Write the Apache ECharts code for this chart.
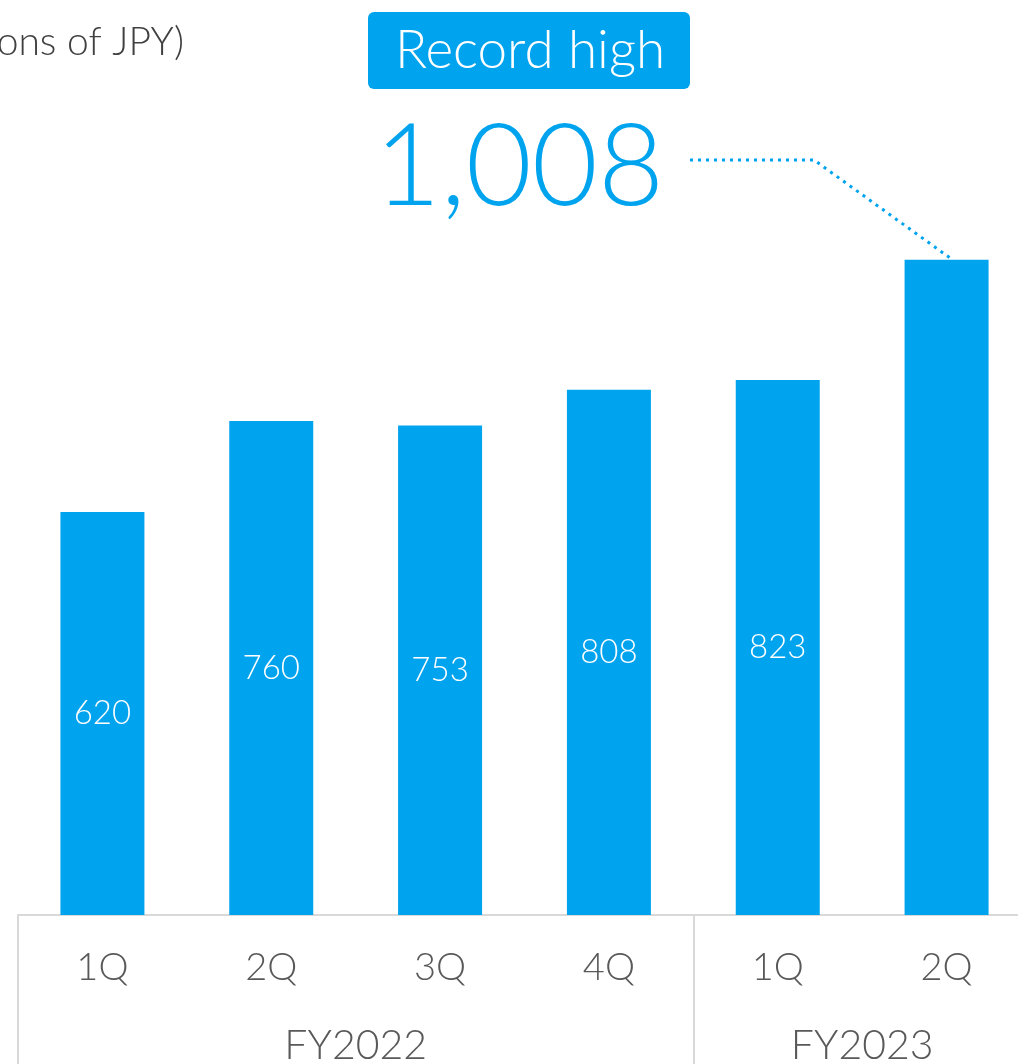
<!DOCTYPE html>
<html>
<head>
<meta charset="utf-8">
<script src="https://cdn.jsdelivr.net/npm/echarts@6/dist/echarts.min.js"></script>
<style>
  html, body { margin: 0; padding: 0; background: #fff; }
  #chart { width: 1018px; height: 1064px; }
</style>
</head>
<body>
<div id="chart"></div>
<script>
// Quarterly figures (billions of JPY)
const quarters = ['1Q', '2Q', '3Q', '4Q', '1Q', '2Q'];
const fiscalYears = ['', '', 'FY2022', '', '', 'FY2023', ''];
const fiscalBoundaries = [0, 4];
const values = [620, 760, 753, 808, 823, 1008];
const unitLabel = '(Billions of JPY)';
const highlightText = 'Record high';

const BLUE = '#00A3EE';
const GRAY_TEXT = '#595959';
const GRAY_LINE = '#d9d9d9';
const FONT = 'Lato';
const lastIndex = values.length - 1;

const chart = echarts.init(document.getElementById('chart'), null, { renderer: 'canvas' });

chart.setOption({
  animation: false,
  backgroundColor: '#ffffff',
  textStyle: { fontFamily: FONT },
  grid: { left: 18, right: -13, top: 5, bottom: 149, containLabel: false, outerBoundsMode: 'none' },
  xAxis: [
    {
      type: 'category',
      data: quarters,
      position: 'bottom',
      axisLine: { show: true, lineStyle: { color: GRAY_LINE, width: 2 } },
      axisTick: { show: false },
      axisLabel: { interval: 0, margin: 34, fontSize: 38, fontWeight: 300, color: GRAY_TEXT, fontFamily: FONT }
    },
    {
      type: 'category',
      data: fiscalYears,
      position: 'bottom',
      boundaryGap: false,
      axisLine: { show: false },
      axisTick: {
        show: true,
        length: 160,
        interval: (i) => fiscalBoundaries.includes(i),
        lineStyle: { color: GRAY_LINE, width: 2 }
      },
      axisLabel: { interval: 0, margin: 110, fontSize: 41, fontWeight: 300, color: GRAY_TEXT, fontFamily: FONT }
    }
  ],
  yAxis: { type: 'value', min: 0, max: 1400, show: false, splitLine: { show: false } },
  series: [{
    type: 'bar',
    xAxisIndex: 0,
    barWidth: 84,
    itemStyle: { color: BLUE },
    label: {
      show: true,
      position: 'inside',
      color: '#ffffff',
      fontSize: 33,
      fontWeight: 300,
      fontFamily: FONT
    },
    data: values.map((v, i) => i === lastIndex ? { value: v, label: { show: false } } : v)
  }]
});

// Annotation for the latest quarter: badge, big value and a dotted leader to the bar top
const barTop = chart.convertToPixel({ seriesIndex: 0 }, [lastIndex, values[lastIndex]]);
const bigValue = values[lastIndex].toLocaleString('en-US');

chart.setOption({
  graphic: [
    {
      type: 'text',
      style: {
        text: unitLabel, x: 184, y: 42, textAlign: 'right', textVerticalAlign: 'middle',
        fontSize: 39, fontWeight: 300, fontFamily: FONT, fill: '#404040'
      }
    },
    {
      type: 'rect',
      shape: { x: 368, y: 12, width: 322, height: 77, r: 6 },
      style: { fill: BLUE }
    },
    {
      type: 'text',
      style: {
        text: highlightText, x: 530, y: 51, textAlign: 'center', textVerticalAlign: 'middle',
        fontSize: 53, fontWeight: 300, fontFamily: FONT, fill: '#ffffff'
      }
    },
    {
      type: 'text',
      style: {
        text: bigValue, x: 664, y: 168, textAlign: 'right', textVerticalAlign: 'middle',
        fontSize: 114, fontWeight: 300, fontFamily: FONT, fill: BLUE
      }
    },
    {
      type: 'polyline',
      shape: { points: [[690, 160], [814, 160], [barTop[0] + 6, barTop[1]]] },
      style: { stroke: BLUE, lineWidth: 3, lineDash: [3, 5], fill: null }
    }
  ]
});
</script>
</body>
</html>
